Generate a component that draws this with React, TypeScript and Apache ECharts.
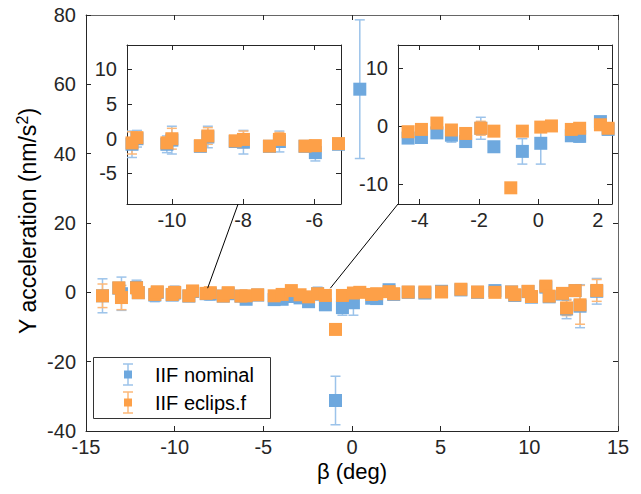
import React, { useEffect, useRef } from 'react';
import * as echarts from 'echarts';

// Solar elevation angle beta (deg)
const beta = [
  -14.07, -13.15, -13.0, -12.15, -12.05, -11.12, -10.98, -10.14, -10.0, -9.2,
  -8.99, -8.22, -7.99, -7.26, -6.98, -6.26, -5.97, -5.32, -4.39, -3.94,
  -3.42, -2.93, -2.45, -1.94, -1.5, -0.93, -0.54, 0.08, 0.44, 1.11,
  1.39, 2.09, 2.35, 3.17, 4.11, 5.05, 6.14, 7.08, 8.06, 9.0,
  9.18, 9.93, 10.12, 10.93, 11.12, 11.87, 12.1, 12.58, 12.86, 13.8,
];
// IIF nominal: Y acceleration (nm/s^2) and its error
const nominalValue = [
  -1.0, 1.2, -0.4, 1.4, -0.1, -0.8, 0.0, -0.8, -0.2, -1.1,
  0.25, -0.4, -0.5, -1.1, -0.4, -1.1, -2.0, -0.8, -2.1, -2.0,
  -1.2, -1.6, -2.7, -0.4, -3.6, -31.2, -4.4, -3.0, 58.6, -1.7,
  -1.8, 0.75, -0.6, 0.0, -0.2, 0.3, 0.7, 0.0, 0.5, 0.1,
  -0.9, 0.2, -1.4, 1.5, -1.3, -0.5, -4.8, 0.5, -4.0, 0.3,
];
const nominalError = [
  4.9, 1.5, 4.8, 2.1, 0.7, 1.9, 1.2, 1.2, 2.0, 0.7,
  1.55, 0.7, 1.7, 0.7, 1.5, 0.7, 1.2, 0.7, 0.7, 0.7,
  0.7, 1.2, 0.7, 1.9, 0.7, 7.0, 2.2, 3.6, 20.0, 0.7,
  1.0, 0.7, 0.7, 0.7, 0.7, 0.7, 0.7, 0.7, 0.7, 0.7,
  0.7, 0.7, 0.7, 0.7, 0.7, 0.7, 2.8, 0.7, 6.2, 3.7,
];
// IIF eclips.f: Y acceleration (nm/s^2) and its error
const eclipsValue = [
  -1.0, 1.3, -1.5, 1.3, -0.1, -0.6, 0.15, -0.6, 0.0, -1.0,
  0.4, -0.3, -0.1, -1.06, -0.1, -1.06, -1.0, -0.7, -1.0, -0.6,
  0.5, -0.7, -1.3, -0.4, -0.9, -10.7, -0.9, -0.2, 0.0, -0.6,
  -0.4, 0.2, -0.4, 0.1, 0.1, 0.1, 0.9, 0.1, 0.0, 0.1,
  -0.7, 0.3, -1.2, 1.8, -1.1, -0.3, -4.5, 0.5, -3.6, 0.55,
];
const eclipsError = [
  3.4, 1.2, 3.5, 1.5, 0.6, 1.6, 0.8, 0.8, 1.5, 0.6,
  1.2, 0.6, 1.2, 0.6, 1.0, 0.6, 0.8, 0.6, 0.6, 0.6,
  0.6, 0.8, 0.6, 1.2, 0.6, 0.6, 0.6, 0.6, 0.6, 0.6,
  0.6, 0.6, 0.6, 0.6, 0.6, 0.6, 0.6, 0.6, 0.6, 0.6,
  0.6, 0.6, 0.6, 0.6, 0.6, 0.6, 2.2, 0.6, 5.6, 3.15,
];
const seriesNames = ['IIF nominal', 'IIF eclips.f'];

const inset1XTicks = [-10, -8, -6];
const inset1YTicks = [-5, 0, 5, 10];
const inset2XTicks = [-4, -2, 0, 2];
const inset2YTicks = [-10, 0, 10];

const BLUE = '#6EA8DE';
const BLUE_ERR = '#9CC3EA';
const ORANGE = '#FDA048';
const ORANGE_ERR = '#FDB878';
const AXIS = '#262626';
const FONT = 'Liberation Sans, Arial, Helvetica, sans-serif';

export default function App() {
  const ref = useRef<HTMLDivElement>(null);
  useEffect(() => {
    document.body.style.margin = '0';
    if (!ref.current) return;
    const chart = echarts.init(ref.current, undefined, { renderer: 'svg' });

    const label = { fontFamily: FONT, fontSize: 20, color: AXIS };

    const mkX = (gridIndex: number, min: number, max: number, pos: 'bottom' | 'top', ticks: number[] | null, interval?: number, lineColor = AXIS) => ({
      type: 'value',
      gridIndex,
      min,
      max,
      position: pos,
      interval,
      axisLine: { show: true, onZero: false, lineStyle: { color: lineColor, width: 1 } },
      axisTick: { show: true, inside: true, length: 5, lineStyle: { color: AXIS }, ...(ticks ? { customValues: ticks } : {}) },
      axisLabel: { show: pos === 'bottom', margin: 6, ...label, ...(ticks ? { customValues: ticks } : {}) },
      splitLine: { show: false },
    });
    const mkY = (gridIndex: number, min: number, max: number, pos: 'left' | 'right', ticks: number[] | null, interval?: number, lineColor = AXIS) => ({
      type: 'value',
      gridIndex,
      min,
      max,
      position: pos,
      interval,
      axisLine: { show: true, onZero: false, lineStyle: { color: lineColor, width: 1 } },
      axisTick: { show: true, inside: true, length: 5, lineStyle: { color: AXIS }, ...(ticks ? { customValues: ticks } : {}) },
      axisLabel: { show: pos === 'left', margin: 10, ...label, ...(ticks ? { customValues: ticks } : {}) },
      splitLine: { show: false },
    });

    const errData = (vals: number[], errs: number[]) => beta.map((b, i) => [b, vals[i] - errs[i], vals[i] + errs[i]]);
    const ptData = (vals: number[]) => beta.map((b, i) => [b, vals[i]]);

    const errSeries = (name: string, g: number, vals: number[], errs: number[], color: string) => ({
      type: 'custom',
      name,
      xAxisIndex: 2 * g,
      yAxisIndex: 2 * g,
      clip: true,
      silent: true,
      encode: { x: 0, y: [1, 2] },
      data: errData(vals, errs),
      renderItem: (params: any, api: any) => {
        const x = api.value(0);
        const p1 = api.coord([x, api.value(1)]);
        const p2 = api.coord([x, api.value(2)]);
        const hw = 5;
        const st = { stroke: color, lineWidth: 1.5 };
        return {
          type: 'group',
          children: [
            { type: 'line', shape: { x1: p1[0], y1: p1[1], x2: p2[0], y2: p2[1] }, style: st },
            { type: 'line', shape: { x1: p1[0] - hw, y1: p1[1], x2: p1[0] + hw, y2: p1[1] }, style: st },
            { type: 'line', shape: { x1: p2[0] - hw, y1: p2[1], x2: p2[0] + hw, y2: p2[1] }, style: st },
          ],
        };
      },
    });
    const ptSeries = (name: string, g: number, vals: number[], color: string) => ({
      type: 'scatter',
      name,
      xAxisIndex: 2 * g,
      yAxisIndex: 2 * g,
      symbol: 'rect',
      symbolSize: 13,
      clip: true,
      silent: true,
      itemStyle: { color, opacity: 1 },
      data: ptData(vals),
    });

    const series: any[] = [];
    for (let g = 0; g < 3; g++) {
      series.push(errSeries(seriesNames[0], g, nominalValue, nominalError, BLUE_ERR));
      series.push(ptSeries(seriesNames[0], g, nominalValue, BLUE));
      series.push(errSeries(seriesNames[1], g, eclipsValue, eclipsError, ORANGE_ERR));
      series.push(ptSeries(seriesNames[1], g, eclipsValue, ORANGE));
    }

    const in1 = { xMin: -11.26, xMax: -5.25, yMin: -9.4, yMax: 13.5 };
    const in2 = { xMin: -4.73, xMax: 2.48, yMin: -13.5, yMax: 14.0 };

    chart.setOption({
      animation: false,
      backgroundColor: '#ffffff',
      grid: [
        { left: 86, top: 15, width: 532, height: 416, show: false, containLabel: false },
        { left: 127, top: 45, width: 214, height: 159, show: true, backgroundColor: '#ffffff', borderWidth: 0, containLabel: false },
        { left: 398, top: 45, width: 214, height: 159, show: true, backgroundColor: '#ffffff', borderWidth: 0, containLabel: false },
      ],
      xAxis: [
        mkX(0, -15, 15, 'bottom', null, 5),
        mkX(0, -15, 15, 'top', null, 5, '#666'),
        mkX(1, in1.xMin, in1.xMax, 'bottom', inset1XTicks),
        mkX(1, in1.xMin, in1.xMax, 'top', inset1XTicks),
        mkX(2, in2.xMin, in2.xMax, 'bottom', inset2XTicks),
        mkX(2, in2.xMin, in2.xMax, 'top', inset2XTicks),
      ],
      yAxis: [
        mkY(0, -40, 80, 'left', null, 20),
        mkY(0, -40, 80, 'right', null, 20, '#666'),
        mkY(1, in1.yMin, in1.yMax, 'left', inset1YTicks),
        mkY(1, in1.yMin, in1.yMax, 'right', inset1YTicks),
        mkY(2, in2.yMin, in2.yMax, 'left', inset2YTicks),
        mkY(2, in2.yMin, in2.yMax, 'right', inset2YTicks),
      ],
      series,
    });

    // connector lines from insets to the main data region
    const a1 = chart.convertToPixel({ seriesIndex: 5 }, [-8.14, in1.yMin]) as number[];
    const b1 = chart.convertToPixel({ seriesIndex: 1 }, [-8.14, 1.2]) as number[];
    const a2 = chart.convertToPixel({ seriesIndex: 9 }, [in2.xMin, in2.yMin]) as number[];
    const b2 = chart.convertToPixel({ seriesIndex: 1 }, [-1.22, 1.2]) as number[];

    const legendX = 93.5, legendY = 357.5;
    const legendItems = [
      { name: seriesNames[0], color: BLUE, err: BLUE_ERR, cy: 374.5 },
      { name: seriesNames[1], color: ORANGE, err: ORANGE_ERR, cy: 402.5 },
    ];
    const legendEls: any[] = [
      { type: 'rect', shape: { x: legendX, y: legendY, width: 177, height: 61 }, style: { fill: '#fff', stroke: '#333', lineWidth: 1 }, z: 100 },
    ];
    legendItems.forEach((it) => {
      const cx = 128;
      const st = { stroke: it.err, lineWidth: 1.5 };
      legendEls.push(
        { type: 'line', shape: { x1: cx, y1: it.cy - 10.5, x2: cx, y2: it.cy + 10.5 }, style: st, z: 101 },
        { type: 'line', shape: { x1: cx - 5, y1: it.cy - 10.5, x2: cx + 5, y2: it.cy - 10.5 }, style: st, z: 101 },
        { type: 'line', shape: { x1: cx - 5, y1: it.cy + 10.5, x2: cx + 5, y2: it.cy + 10.5 }, style: st, z: 101 },
        { type: 'rect', shape: { x: cx - 4, y: it.cy - 4, width: 8, height: 8 }, style: { fill: it.color }, z: 102 },
        { type: 'text', x: 155, y: it.cy, style: { text: it.name, fontFamily: FONT, fontSize: 20, fill: '#000', align: 'left', verticalAlign: 'middle' }, z: 102 },
      );
    });

    chart.setOption({
      graphic: [
        { type: 'line', shape: { x1: a1[0], y1: a1[1], x2: b1[0], y2: b1[1] }, style: { stroke: '#000', lineWidth: 1 }, z: 50 },
        { type: 'line', shape: { x1: a2[0], y1: a2[1], x2: b2[0], y2: b2[1] }, style: { stroke: '#000', lineWidth: 1 }, z: 50 },
        {
          type: 'text', x: 352, y: 471,
          style: { text: 'β (deg)', fontFamily: FONT, fontSize: 22, fill: '#000', align: 'center', verticalAlign: 'middle' },
        },
        {
          type: 'text', x: 28, y: 221, rotation: Math.PI / 2,
          style: {
            text: 'Y acceleration (nm/s{sup|2})',
            fontFamily: FONT, fontSize: 23, fill: '#000', align: 'center', verticalAlign: 'middle',
            rich: { sup: { fontFamily: FONT, fontSize: 16, fill: '#000', padding: [0, 0, 12, 0] } },
          },
        },
        ...legendEls,
      ],
    });

    return () => chart.dispose();
  }, []);
  return <div ref={ref} style={{ width: 641, height: 494 }} />;
}
